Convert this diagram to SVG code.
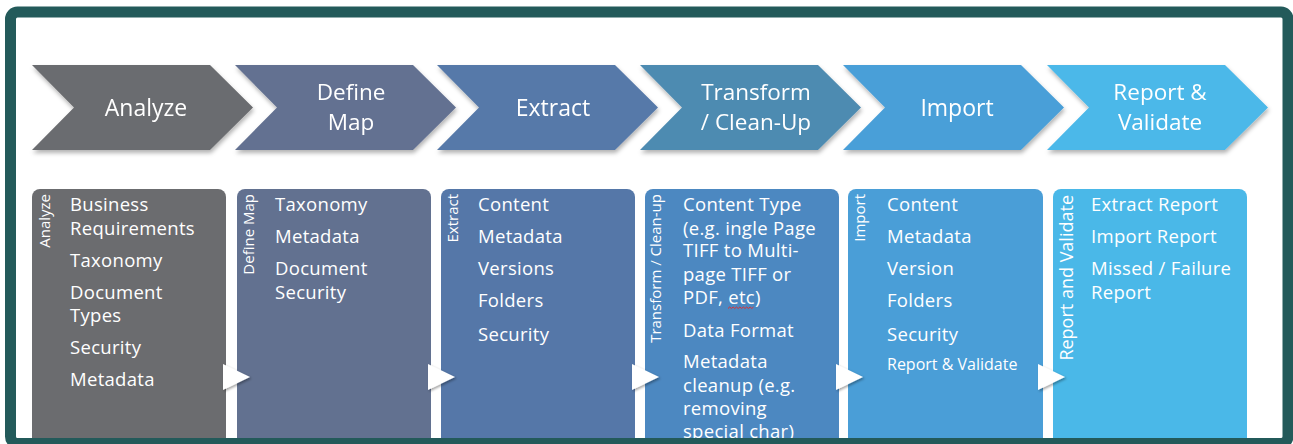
<svg xmlns="http://www.w3.org/2000/svg" width="1293" height="444" viewBox="0 0 1293 444">
  <style>
    .step { font-family: "Open Sans", "Liberation Sans", sans-serif; font-size: 23px; fill: #ffffff; text-anchor: middle; }
    .two { font-size: 22.5px; }
    .item { font-family: "Open Sans", "Liberation Sans", sans-serif; font-size: 18.5px; fill: #ffffff; letter-spacing: 0.3px; }
    .small { font-size: 16px; letter-spacing: 0; }
    .vlabel { font-family: "Open Sans", "Liberation Sans", sans-serif; font-size: 15px; fill: #ffffff; text-anchor: end; }
    .arrow { fill: #ffffff; filter: url(#arrowShadow); }
  </style>
  <defs>
    <filter id="chevShadow" x="-5%" y="-10%" width="115%" height="130%">
      <feDropShadow dx="1" dy="3" stdDeviation="2" flood-color="#000000" flood-opacity="0.3"/>
    </filter>
    <filter id="arrowShadow" x="-30%" y="-30%" width="160%" height="160%">
      <feDropShadow dx="1.5" dy="1.5" stdDeviation="1" flood-color="#000000" flood-opacity="0.35"/>
    </filter>
    <path id="chev" d="M0,65 H178 L221,107.5 L178,150 H0 L42,107.5 Z"/>
    <path id="tri" d="M0,364 L27,377 L0,390 Z"/>
  </defs>

  <rect x="0" y="0" width="1293" height="444" fill="#ffffff"/>

  <!-- process steps: chevron row -->
  <g id="step-analyze" filter="url(#chevShadow)">
    <use href="#chev" x="32" fill="#6b6c6f"/>
    <text class="step" x="146" y="116">Analyze</text>
  </g>
  <g id="step-define-map" filter="url(#chevShadow)">
    <use href="#chev" x="235" fill="#637191"/>
    <text class="step two" y="99.5"><tspan x="351">Define</tspan><tspan x="351" dy="30.7">Map</tspan></text>
  </g>
  <g id="step-extract" filter="url(#chevShadow)">
    <use href="#chev" x="437" fill="#5679a9"/>
    <text class="step" x="553" y="116">Extract</text>
  </g>
  <g id="step-transform" filter="url(#chevShadow)">
    <use href="#chev" x="640" fill="#4e8bb1"/>
    <text class="step two" y="99.5"><tspan x="756">Transform</tspan><tspan x="756" dy="30.7">/ Clean-Up</tspan></text>
  </g>
  <g id="step-import" filter="url(#chevShadow)">
    <use href="#chev" x="843" fill="#4a9fd8"/>
    <text class="step" x="957" y="116">Import</text>
  </g>
  <g id="step-report" filter="url(#chevShadow)">
    <use href="#chev" x="1047" fill="#4bb8e9"/>
    <text class="step two" y="99.5"><tspan x="1160">Report &amp;</tspan><tspan x="1160" dy="30.7">Validate</tspan></text>
  </g>

  <!-- detail panels -->
  <g id="panel-analyze">
    <rect x="32" y="189" width="194" height="262" rx="8" fill="#6b6c6f"/>
    <text class="vlabel" transform="translate(50,194) rotate(-90)">Analyze</text>
    <text class="item" x="70" y="211">Business</text>
    <text class="item" x="70" y="234.5">Requirements</text>
    <text class="item" x="70" y="266.5">Taxonomy</text>
    <text class="item" x="70" y="298.5">Document</text>
    <text class="item" x="70" y="322">Types</text>
    <text class="item" x="70" y="354">Security</text>
    <text class="item" x="70" y="386">Metadata</text>
  </g>
  <g id="panel-define-map">
    <rect x="237" y="189" width="194" height="262" rx="8" fill="#627190"/>
    <text class="vlabel" transform="translate(254,194) rotate(-90)">Define Map</text>
    <text class="item" x="275" y="211">Taxonomy</text>
    <text class="item" x="275" y="243">Metadata</text>
    <text class="item" x="275" y="275">Document</text>
    <text class="item" x="275" y="298.5">Security</text>
  </g>
  <g id="panel-extract">
    <rect x="441" y="189" width="194" height="262" rx="8" fill="#5577a8"/>
    <text class="vlabel" transform="translate(458,194) rotate(-90)">Extract</text>
    <text class="item" x="478" y="211">Content</text>
    <text class="item" x="478" y="243">Metadata</text>
    <text class="item" x="478" y="275">Versions</text>
    <text class="item" x="478" y="307">Folders</text>
    <text class="item" x="478" y="341">Security</text>
  </g>
  <g id="panel-transform">
    <rect x="645" y="189" width="194" height="262" rx="8" fill="#4c88c1"/>
    <text class="vlabel" transform="translate(661,194) rotate(-90)">Transform / Clean-up</text>
    <text class="item" x="683" y="211">Content Type</text>
    <text class="item" x="683" y="234.5">(e.g. ingle Page</text>
    <text class="item" x="683" y="257">TIFF to Multi-</text>
    <text class="item" x="683" y="280.5">page TIFF or</text>
    <text class="item" x="683" y="303.5">PDF, etc)</text>
    <path d="M728,308.5 l1.7,-1.5 l1.7,1.5 l1.7,-1.5 l1.7,1.5 l1.7,-1.5 l1.7,1.5 l1.7,-1.5 l1.7,1.5 l1.7,-1.5 l1.7,1.5 l1.7,-1.5 l1.7,1.5 l1.7,-1.5 l1.7,1.5 l1.7,-1.5" fill="none" stroke="#e03030" stroke-width="1"/>
    <text class="item" x="683" y="336.5">Data Format</text>
    <text class="item" x="683" y="368">Metadata</text>
    <text class="item" x="683" y="391.5">cleanup (e.g.</text>
    <text class="item" x="683" y="415">removing</text>
    <text class="item" x="683" y="438">special char)</text>
  </g>
  <g id="panel-import">
    <rect x="848" y="189" width="195" height="262" rx="8" fill="#4a9ed7"/>
    <text class="vlabel" transform="translate(865,194) rotate(-90)">Import</text>
    <text class="item" x="887" y="211">Content</text>
    <text class="item" x="887" y="243">Metadata</text>
    <text class="item" x="887" y="275">Version</text>
    <text class="item" x="887" y="307">Folders</text>
    <text class="item" x="887" y="341">Security</text>
    <text class="item small" x="887" y="370">Report &amp; Validate</text>
  </g>
  <g id="panel-report">
    <rect x="1053" y="189" width="194" height="262" rx="8" fill="#4ab8e8"/>
    <text class="vlabel" style="font-size:18px" transform="translate(1073,195) rotate(-90)">Report and Validate</text>
    <text class="item" x="1091" y="211">Extract Report</text>
    <text class="item" x="1091" y="243">Import Report</text>
    <text class="item" x="1091" y="275">Missed / Failure</text>
    <text class="item" x="1091" y="298.5">Report</text>
  </g>

  <!-- connectors between panels -->
  <g id="connectors">
    <use href="#tri" x="223" class="arrow"/>
    <use href="#tri" x="428" class="arrow"/>
    <use href="#tri" x="632" class="arrow"/>
    <use href="#tri" x="836" class="arrow"/>
    <use href="#tri" x="1038" class="arrow"/>
  </g>

  <!-- outer frame -->
  <rect x="10.5" y="12" width="1277.5" height="431.5" rx="7" fill="none" stroke="#235a5a" stroke-width="11"/>
</svg>
